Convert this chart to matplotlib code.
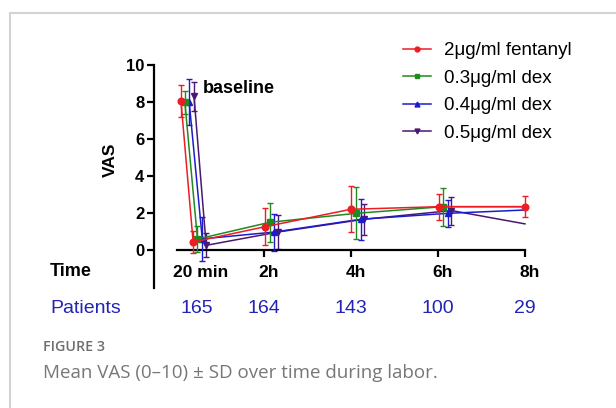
import numpy as np
import matplotlib.pyplot as plt
from matplotlib.lines import Line2D
from matplotlib.patches import Rectangle
from matplotlib.transforms import ScaledTranslation, blended_transform_factory

nan = np.nan

# VAS means and SD per group (hours, baseline and 20 min plotted near 0)
series_names = ["2\u03bcg/ml fentanyl", "0.3\u03bcg/ml dex", "0.4\u03bcg/ml dex", "0.5\u03bcg/ml dex"]
red_x = [0.09, 0.37, 2.03, 4.0, 6.03, 8.0]
green_x = [0.18, 0.47, 2.14, 4.12, 6.12, 8.0]
blue_x = [0.28, 0.58, 2.24, 4.22, 6.22, 8.0]
purple_x = [0.39, 0.67, 2.32, 4.30, 6.31, 8.0]

red_vas = [8.05, 0.43, 1.26, 2.20, 2.34, 2.34]
green_vas = [7.98, 0.59, 1.50, 1.98, 2.34, 2.34]
blue_vas = [7.98, 0.60, 0.97, 1.66, 1.98, 2.16]
purple_vas = [8.30, 0.25, 0.97, 1.66, 2.13, 1.41]

red_sd = [0.85, 0.60, 1.00, 1.25, 0.70, 0.58]
green_sd = [0.62, 0.70, 1.05, 1.40, 1.03, nan]
blue_sd = [1.25, 1.20, 1.00, 1.10, 0.74, nan]
purple_sd = [0.80, 0.65, 0.90, 0.85, 0.76, nan]

time_ticks = [0.55, 2, 4, 6, 8]
time_labels = ["20 min", "2h", "4h", "6h", "8h"]
patients_x = [0.45, 2, 4, 6, 8]
patients = ["165", "164", "143", "100", "29"]

colors = ["#ee1c24", "#1f8a1f", "#1c1ccc", "#4a1870"]
markers = ["o", "s", "^", "v"]

plt.rcParams['font.family'] = ['Liberation Sans', 'DejaVu Sans']

fig = plt.figure(figsize=(6.16, 4.08), dpi=100)
ax = fig.add_axes([0.25, 0.2944, 0.6234, 0.569])

xs = [red_x, green_x, blue_x, purple_x]
ys = [red_vas, green_vas, blue_vas, purple_vas]
sds = [red_sd, green_sd, blue_sd, purple_sd]
handles = []
for i in range(4):
    every = None if i == 0 else slice(0, 5)
    ax.errorbar(xs[i], ys[i], yerr=sds[i], color=colors[i], marker=markers[i],
                markersize=4.8, lw=1.1, elinewidth=1.0, capsize=2.5, capthick=1.0,
                markevery=every, zorder=5 - i)
    handles.append(Line2D([], [], color=colors[i], marker=markers[i], markersize=3.5,
                          lw=1.1, label=series_names[i]))

ax.set_xlim(-0.53, 8.3)
ax.set_ylim(-2.05, 10.5)

for s in ['top', 'right']:
    ax.spines[s].set_visible(False)
ax.spines['bottom'].set_position(('data', 0))
ax.spines['bottom'].set_bounds(0, 8)
ax.spines['left'].set_bounds(-2.05, 10)
ax.spines['bottom'].set_linewidth(1.6)
ax.spines['left'].set_linewidth(1.6)

ax.set_yticks([0, 2, 4, 6, 8, 10])
ax.tick_params(axis='y', length=5, width=1.6, pad=2, labelsize=12)
for lab in ax.get_yticklabels():
    lab.set_fontweight('bold')

ax.set_xticks(time_ticks)
ax.set_xticklabels(time_labels, fontweight='bold', fontsize=12.5)
ax.tick_params(axis='x', length=5, width=1.6, pad=6)
ax.xaxis.get_major_ticks()[0].tick1line.set_visible(False)
for lab in ax.get_xticklabels()[1:]:
    lab.set_transform(lab.get_transform() + ScaledTranslation(0.05, 0, fig.dpi_scale_trans))

ax.set_ylabel("VAS", fontweight='bold', fontsize=12.5)
ax.yaxis.set_label_coords(-0.094, 0.551)

ax.text(0.6, 8.75, "baseline", fontweight='bold', fontsize=13, va='center')

tr = blended_transform_factory(ax.transAxes, ax.transData)
ax.text(-0.271, -1.19, "Time", transform=tr, fontweight='bold', fontsize=13, va='center')
ax.text(-0.271, -3.19, "Patients", transform=tr, color="#2323b4", fontsize=14, va='center')
for px, n in zip(patients_x, patients):
    ax.text(px, -3.19, n, color="#2323b4", fontsize=14, ha='center', va='center')

fig.legend(handles=handles, loc='upper left', bbox_to_anchor=(0.654, 0.897), frameon=False,
           fontsize=13.5, borderpad=0, borderaxespad=0, handlelength=1.5,
           handletextpad=0.7, labelspacing=0.56)

fig.text(43 / 616, 1 - 347 / 408, "FIGURE 3", family=['Open Sans', 'DejaVu Sans'],
         fontweight='semibold', fontsize=10.3, color="#6e6e6e", va='center')
fig.text(43 / 616, 1 - 373 / 408, "Mean VAS (0\u201310) \u00b1 SD over time during labor.",
         family=['Open Sans', 'DejaVu Sans'], fontsize=13.5, color="#777777", va='center')

fig.add_artist(Rectangle((9.5 / 616, -0.2), 1.2, 1.2 - 13 / 408, transform=fig.transFigure,
                         fill=False, edgecolor="#d3d3d3", lw=1.5))

fig.savefig("out.png", dpi=100)
